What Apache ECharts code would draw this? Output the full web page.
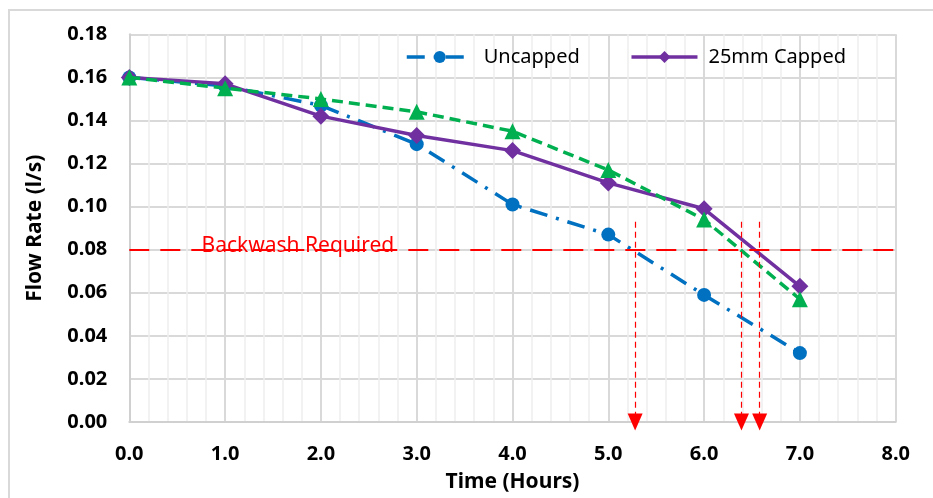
<!DOCTYPE html>
<html>
<head>
<meta charset="utf-8">
<script src="https://cdn.jsdelivr.net/npm/echarts@6/dist/echarts.min.js"></script>
<style>
  html, body { margin: 0; padding: 0; background: #fff; }
  #chart { width: 933px; height: 498px; }
</style>
</head>
<body>
<div id="chart"></div>
<script>
// data
const hours = [0, 1, 2, 3, 4, 5, 6, 7];
const uncapped = [0.160, 0.156, 0.147, 0.129, 0.101, 0.087, 0.059, 0.032];
const capped25 = [0.160, 0.157, 0.142, 0.133, 0.126, 0.111, 0.099, 0.063];
const capped3 = [0.160, 0.155, 0.150, 0.144, 0.135, 0.117, 0.094, 0.057];
const backwashLevel = 0.08;
const backwashTimes = [5.28, 6.39, 6.58];
const arrowTop = 0.093;

const font = '"Noto Sans", sans-serif';

function pairs(ys) {
    return hours.map((x, i) => [x, ys[i]]);
}

let arrowLines = backwashTimes.map(t => [
    { coord: [t, arrowTop], symbol: 'none' },
    { coord: [t, 0], symbol: 'triangle', symbolSize: [15, 17], symbolRotate: 180 }
]);

const chart = echarts.init(document.getElementById('chart'));
chart.setOption({
    backgroundColor: '#fff',
    animation: false,
    textStyle: { fontFamily: font },
    graphic: [{
        type: 'rect',
        shape: { x: 9, y: 10, width: 940, height: 500 },
        style: { fill: 'none', stroke: '#d9d9d9', lineWidth: 2 },
        silent: true
    }],
    grid: { left: 129.3, right: 37.3, top: 34.3, bottom: 74.7 },
    legend: {
        data: [
            { name: 'Uncapped', lineStyle: { width: 3.5 } },
            { name: '25mm Capped', lineStyle: { width: 3.5 } }
        ],
        left: 400,
        top: 42,
        itemWidth: 66,
        itemHeight: 15,
        itemGap: 50,
        textStyle: { fontFamily: font, fontSize: 20, color: '#000', padding: [0, 0, 0, 6] }
    },
    xAxis: {
        type: 'value',
        min: 0, max: 8, interval: 1,
        name: 'Time (Hours)',
        nameLocation: 'middle',
        nameGap: 50,
        nameTextStyle: { fontFamily: font, fontSize: 21, fontWeight: 'bold', color: '#000' },
        axisLine: { show: true, lineStyle: { color: '#d0d0d0', width: 2 } },
        axisTick: { show: false },
        axisLabel: {
            margin: 22, fontFamily: font, fontSize: 20, fontWeight: 'bold', color: '#000',
            formatter: v => v.toFixed(1)
        },
        splitLine: { show: true, lineStyle: { color: '#d9d9d9', width: 2 } },
        minorTick: { show: false, splitNumber: 5 },
        minorSplitLine: { show: true, lineStyle: { color: '#eeeeee', width: 1.5 } }
    },
    yAxis: {
        type: 'value',
        min: 0, max: 0.18, interval: 0.02,
        name: 'Flow Rate (l/s)',
        nameLocation: 'middle',
        nameGap: 84,
        nameTextStyle: { fontFamily: font, fontSize: 21, fontWeight: 'bold', color: '#000' },
        axisLine: { show: true, lineStyle: { color: '#d0d0d0', width: 2 } },
        axisTick: { show: false },
        axisLabel: {
            margin: 22, fontFamily: font, fontSize: 20, fontWeight: 'bold', color: '#000',
            formatter: v => v.toFixed(2)
        },
        splitLine: { show: true, lineStyle: { color: '#d9d9d9', width: 2 } }
    },
    series: [
        {
            name: '25mm Capped',
            type: 'line',
            data: pairs(capped25),
            symbol: 'diamond',
            symbolSize: 17,
            z: 3,
            itemStyle: { color: '#7030A0' },
            lineStyle: { color: '#7030A0', width: 3.5 }
        },
        {
            name: 'Capped',
            type: 'line',
            data: pairs(capped3),
            symbol: 'triangle',
            symbolSize: 16,
            z: 4,
            itemStyle: { color: '#00B050' },
            lineStyle: { color: '#00B050', width: 3.5, type: [11, 6] }
        },
        {
            name: 'Uncapped',
            type: 'line',
            data: pairs(uncapped),
            symbol: 'circle',
            symbolSize: 14,
            z: 2,
            itemStyle: { color: '#0070C0' },
            lineStyle: { color: '#0070C0', width: 3.5, type: [18, 9, 3, 9] },
            markLine: {
                silent: true,
                symbol: 'none',
                label: { show: false },
                lineStyle: { color: '#ff0000', width: 2, type: [20, 11] },
                data: [[{ coord: [0, backwashLevel] }, { coord: [8, backwashLevel] }]]
            },
            markPoint: {
                silent: true,
                symbol: 'rect',
                symbolSize: 0,
                label: {
                    show: true,
                    position: 'top',
                    distance: -7,
                    formatter: 'Backwash Required',
                    fontFamily: font,
                    fontSize: 21,
                    color: '#ff0000'
                },
                data: [{ coord: [1.76, backwashLevel] }]
            }
        },
        {
            name: 'arrows',
            type: 'line',
            data: [],
            markLine: {
                silent: true,
                label: { show: false },
                lineStyle: { color: '#ff0000', width: 1.2, type: [6, 4] },
                data: arrowLines
            }
        }
    ]
});
</script>
</body>
</html>
